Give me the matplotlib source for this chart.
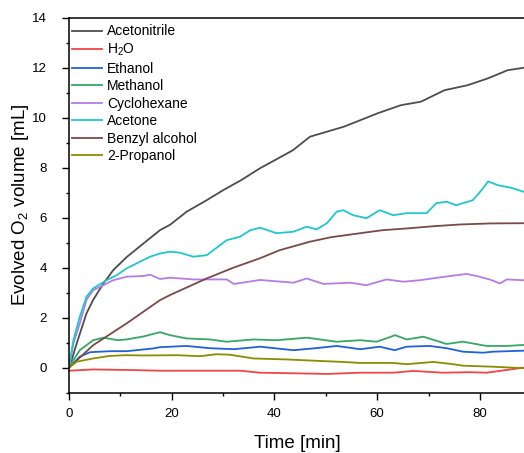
import matplotlib.pyplot as plt

plt.rcParams['font.family'] = ['Liberation Sans', 'DejaVu Sans']
plt.rcParams['mathtext.fontset'] = 'custom'
plt.rcParams['mathtext.rm'] = 'Liberation Sans'
plt.rcParams['mathtext.it'] = 'Liberation Sans:italic'

# values (time in min, volume in mL)
t_acn = [0, 0.5, 1.5, 3.4, 4.7, 6.7, 8.6, 11.2, 14.5, 17.7, 19.7, 22.9, 26.8, 30, 33.5, 37.2,
         40.5, 43.6, 46.9, 50.2, 53.5, 56.7, 60, 64.6, 68.5, 73.1, 77.6, 81.5, 85.4, 88.6]
v_acn = [0, 0.3, 0.97, 2.17, 2.71, 3.37, 3.9, 4.42, 4.97, 5.5, 5.72, 6.24, 6.7, 7.1, 7.5, 7.98,
         8.35, 8.7, 9.24, 9.44, 9.64, 9.9, 10.17, 10.5, 10.64, 11.1, 11.3, 11.57, 11.9, 12.0]

t_h2o = [0, 4.7, 11.2, 17.7, 24.3, 30, 33.3, 37.2, 43, 50.2, 56.7, 63.1, 67, 72.8, 78, 81.3,
         85.2, 88.4]
v_h2o = [-0.12, -0.07, -0.09, -0.12, -0.12, -0.12, -0.12, -0.2, -0.22, -0.25, -0.2, -0.2,
         -0.13, -0.2, -0.18, -0.2, -0.09, 0]

t_eth = [0, 2.1, 4.1, 8, 11.2, 16.4, 17.7, 22.9, 27.4, 32.1, 37.2, 43.7, 48, 52.1, 56.7, 60.5,
         63.4, 65.7, 70.2, 73.5, 76.7, 80.6, 82.5, 88.4]
v_eth = [0, 0.44, 0.62, 0.66, 0.66, 0.77, 0.82, 0.87, 0.78, 0.74, 0.84, 0.7, 0.78, 0.87, 0.74,
         0.84, 0.7, 0.84, 0.87, 0.78, 0.64, 0.6, 0.64, 0.68]

t_meoh = [0, 0.85, 2.1, 4.7, 6.7, 9.5, 11.2, 14.5, 17.7, 19.7, 22.9, 27.4, 30.7, 35.9, 40.4,
          46.3, 52.1, 56.7, 59.9, 63.5, 65.7, 69, 73.5, 76.7, 81.3, 85.2, 88.4]
v_meoh = [0, 0.3, 0.7, 1.1, 1.2, 1.1, 1.13, 1.25, 1.42, 1.3, 1.17, 1.13, 1.04, 1.13, 1.1,
          1.2, 1.04, 1.1, 1.04, 1.3, 1.13, 1.24, 0.95, 1.04, 0.87, 0.87, 0.91]

t_chx = [0, 0.85, 2.1, 3.4, 4.7, 6.7, 8.6, 11.2, 14.5, 15.8, 17.7, 19.7, 24.3, 30.7, 32.1, 37.2,
         43.7, 46.3, 49.5, 54.7, 57.9, 61.8, 65.1, 68.3, 72.8, 77.4, 79.3, 81.9, 83.9, 85.2, 88.4]
v_chx = [0, 0.97, 1.77, 2.71, 3.1, 3.3, 3.5, 3.64, 3.67, 3.72, 3.55, 3.6, 3.53, 3.53, 3.35, 3.51,
         3.4, 3.57, 3.35, 3.4, 3.3, 3.53, 3.44, 3.5, 3.63, 3.75, 3.67, 3.53, 3.37, 3.53, 3.5]

t_ace = [0, 0.85, 2.1, 3.4, 4.7, 7.3, 9.3, 11.2, 13.8, 15.8, 17.7, 19.7, 21.6, 24.2, 26.8, 28.1,
         30.7, 33.3, 35.3, 37.2, 40.4, 43.7, 46.3, 48.2, 50.2, 52.1, 53.4, 55.3, 57.9, 60.5,
         63.1, 65.7, 69.6, 71.5, 73.5, 75.4, 78.6, 80.3, 81.6, 83.5, 86, 88.6]
v_ace = [0, 1.1, 2.04, 2.84, 3.17, 3.5, 3.7, 3.97, 4.24, 4.44, 4.57, 4.64, 4.6, 4.44, 4.5, 4.7,
         5.1, 5.24, 5.5, 5.6, 5.38, 5.44, 5.64, 5.53, 5.78, 6.24, 6.3, 6.1, 5.98, 6.3,
         6.1, 6.18, 6.18, 6.58, 6.64, 6.5, 6.7, 7.1, 7.45, 7.3, 7.2, 7.03]

t_bnz = [0, 4.7, 11.2, 17.7, 19.7, 26.8, 32, 37.2, 41, 46.9, 51, 56.7, 61, 66.4, 71, 76.2,
         82, 88.6]
v_bnz = [0, 0.9, 1.77, 2.7, 2.91, 3.57, 4.0, 4.38, 4.7, 5.04, 5.22, 5.38, 5.5, 5.58, 5.66, 5.73,
         5.77, 5.78]

t_ipa = [0, 1.5, 4.7, 7.9, 11, 14.5, 21, 25.5, 28.7, 31.3, 35.9, 42.3, 48.8, 53.4, 56.7, 63.1,
         65.7, 70.9, 74.8, 76.7, 82.5, 88.4]
v_ipa = [0, 0.24, 0.37, 0.47, 0.5, 0.49, 0.5, 0.46, 0.54, 0.52, 0.37, 0.33, 0.27, 0.23, 0.19,
         0.19, 0.14, 0.23, 0.14, 0.08, 0.04, -0.02]

series = [
    ('Acetonitrile', t_acn, v_acn, '#4d4d4d'),
    ('H$_2$O', t_h2o, v_h2o, '#f04545'),
    ('Ethanol', t_eth, v_eth, '#1f62d8'),
    ('Methanol', t_meoh, v_meoh, '#35a865'),
    ('Cyclohexane', t_chx, v_chx, '#b57ce6'),
    ('Acetone', t_ace, v_ace, '#1ec8cc'),
    ('Benzyl alcohol', t_bnz, v_bnz, '#7a4a4a'),
    ('2-Propanol', t_ipa, v_ipa, '#8c8c00'),
]

fig = plt.figure(figsize=(5.24, 4.53), dpi=100)
ax = fig.add_axes([69 / 524, 1 - 392.7 / 453, 457.2 / 524, 375 / 453])

for name, t, v, c in series:
    ax.plot(t, v, color=c, lw=1.3, label=name)

ax.set_xlim(0, 89)
ax.set_ylim(-1, 14)
ax.set_xticks([0, 20, 40, 60, 80])
ax.set_xticks(range(10, 90, 20), minor=True)
ax.set_yticks(range(0, 15, 2))
ax.set_yticks(range(-1, 14, 2), minor=True)
ax.tick_params(which='major', direction='out', length=5, width=1, labelsize=9.5)
ax.tick_params(which='minor', direction='out', length=2.5, width=1)
ax.tick_params(axis='x', which='major', pad=5.9)
ax.tick_params(axis='y', which='major', pad=10.8)
ax.spines['right'].set_visible(False)
for s in ['left', 'bottom', 'top']:
    ax.spines[s].set_linewidth(1.1)

ax.set_xlabel('Time [min]', fontsize=13.5, labelpad=11)
ax.set_ylabel('Evolved O$_2$ volume [mL]', fontsize=13.5, labelpad=1)

ax.legend(loc='upper left', bbox_to_anchor=(0.006, 0.982), frameon=False, fontsize=10,
          handlelength=2.2, handletextpad=0.35, labelspacing=0.25, borderaxespad=0,
          borderpad=0)

fig.savefig('out.png', dpi=100)
